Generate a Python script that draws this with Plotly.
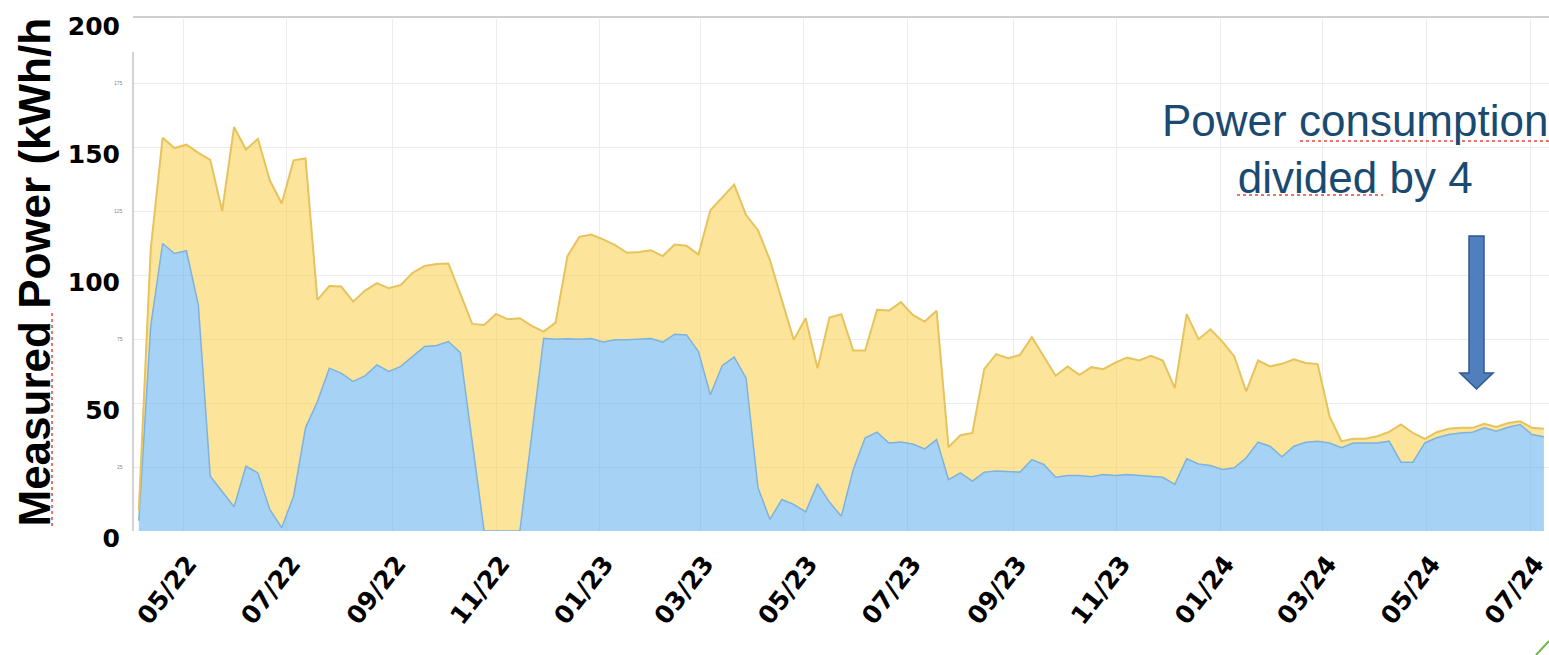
import pandas as pd
import plotly.graph_objects as go

W, H = 1549, 655
ML, MR, MT, MB = 133, 0, 19, 124

# weekly readings (kWh/h), first reading on 2022-04-05
first_week = "2022-04-05"
total_power = [
    8, 110, 153.6, 149.6, 150.9, 147.7, 145, 125, 157.8, 149,
    153.2, 137, 127.9, 144.8, 145.5, 90.3, 95.7, 95.5, 89.6, 93.9,
    96.8, 94.8, 96.1, 100.9, 103.5, 104.3, 104.5, 93, 80.9, 80.5,
    84.8, 82.7, 83.1, 80.1, 77.9, 81.4, 107.4, 114.9, 115.8, 113.9,
    111.7, 108.7, 109, 109.7, 107.4, 111.9, 111.4, 108, 125.3, 130.3,
    135.3, 123.4, 117.5, 105.8, 90.3, 74.7, 83.1, 63.6, 83.4, 84.7,
    70.5, 70.5, 86.4, 86.1, 89.4, 84.4, 81.8, 86, 32.7, 37.4,
    38.3, 63.2, 69.1, 67.5, 68.8, 75.7, 68.2, 60.6, 64.3, 61,
    64, 63.2, 65.8, 67.8, 66.6, 68.4, 66.6, 55.8, 84.7, 74.9,
    78.8, 74, 68.2, 54.5, 66.6, 64.3, 65.3, 67.1, 65.6, 65.2,
    44.8, 35.1, 36, 36, 37, 38.7, 41.6, 38.3, 36, 38.6,
    39.9, 40.3, 40.3, 41.9, 40.6, 42.2, 42.9, 40.3, 39.9,
]
base_power = [
    4, 80, 112.3, 108.4, 109.5, 88.3, 21.4, 15.5, 9.5, 25.3,
    22.7, 8.4, 1.3, 13.6, 40.3, 50.6, 63.6, 61.7, 58.4, 60.6,
    64.9, 62.3, 64.3, 68.2, 72.1, 72.5, 74, 69.7, 34.8, 0,
    0, 0, 0, 37.6, 75.3, 74.9, 75.1, 74.9, 75.2, 73.8,
    74.7, 74.7, 74.9, 75.2, 73.8, 76.9, 76.6, 70.1, 53.2, 64.7,
    67.9, 59.7, 16.9, 4.5, 12.3, 10.4, 7.5, 18.4, 11.3, 5.8,
    24, 36.4, 38.6, 34.4, 34.8, 34, 32.1, 35.7, 20.1, 22.7,
    19.5, 23, 23.4, 23.2, 23, 27.9, 26, 21, 21.7, 21.7,
    21.2, 22.1, 21.7, 22.1, 21.7, 21.2, 21, 18.2, 28.2, 26.2,
    25.6, 24, 24.7, 28.6, 34.7, 33.1, 29, 33.1, 34.7, 35.1,
    34.4, 32.5, 34.4, 34.4, 34.4, 35.1, 26.9, 26.9, 34.4, 36.4,
    37.7, 38.3, 38.6, 40.3, 39, 40.5, 41.6, 37.7, 36.8,
]
weeks = pd.date_range(first_week, periods=len(total_power), freq="7D")

big_ticks = [0, 50, 100, 150, 200]
small_ticks = [25, 75, 125, 175]


def px_x(px):
    return (px - ML) / (W - ML - MR)


def px_y(py):
    return (H - MB - py) / (H - MT - MB)


fig = go.Figure()
fig.add_trace(go.Scatter(x=weeks, y=base_power, mode="lines", fill="tozeroy",
                         line=dict(color="#7db3dc", width=1.5),
                         fillcolor="rgba(105,180,238,0.6)", showlegend=False))
fig.add_trace(go.Scatter(x=weeks, y=total_power, mode="lines", fill="tonexty",
                         line=dict(color="#e6c35c", width=2),
                         fillcolor="rgba(252,210,88,0.6)", showlegend=False))

fig.update_xaxes(range=["2022-04-01 14:00", "2024-07-12"], tick0="2022-05-01", dtick="M2",
                 tickformat="%m/%y", tickangle=-52, ticklabelstandoff=12, ticklabelshift=5,
                 ticklabeloverflow="allow",
                 tickfont=dict(family="DejaVu Sans", size=25, color="black", weight="bold"),
                 showgrid=True, gridcolor="#ececec", gridwidth=1, zeroline=False, showline=False)
fig.update_yaxes(range=[0, 200], tickvals=big_ticks, ticklabelstandoff=12, ticklabelshift=7,
                 ticklabeloverflow="allow",
                 tickfont=dict(family="DejaVu Sans", size=25, color="black", weight="bold"),
                 showgrid=True, gridcolor="#ececec", gridwidth=1,
                 minor=dict(dtick=25, showgrid=True, gridcolor="#ececec", gridwidth=1),
                 zeroline=False, showline=False)

for v in small_ticks:
    fig.add_annotation(x=px_x(125), xref="paper", y=v, yref="y", text=str(v), showarrow=False,
                       xanchor="right", yanchor="middle",
                       font=dict(family="Liberation Sans", size=5, color="#888888"))

fig.add_annotation(x=px_x(34), xref="paper", y=px_y(529), yref="paper",
                   xanchor="center", yanchor="bottom",
                   text="Measured Power (kWh/h", textangle=-90, showarrow=False,
                   font=dict(family="Liberation Sans", size=44, color="black", weight="bold"))
fig.add_annotation(x=px_x(1355), xref="paper", y=px_y(149), yref="paper",
                   xanchor="center", yanchor="middle",
                   text="Power consumption<br>divided by 4", showarrow=False, align="center",
                   font=dict(family="Liberation Sans", size=44, color="#1b4a70"))

# frame lines
fig.add_shape(type="line", xref="paper", yref="paper", x0=0, x1=1, y0=px_y(17), y1=px_y(17),
              line=dict(color="#cfcfcf", width=2))
fig.add_shape(type="line", xref="paper", yref="paper", x0=0, x1=0, y0=px_y(52), y1=px_y(531),
              line=dict(color="#c4c4c4", width=1.5))

# spell-check squiggles
for x0, y0, x1, y1 in [(52, 313, 52, 528), (1300, 141, 1549, 141), (1237, 195, 1383, 195)]:
    fig.add_shape(type="line", xref="paper", yref="paper", x0=px_x(x0), x1=px_x(x1),
                  y0=px_y(y0), y1=px_y(y1), line=dict(color="#e8443a", width=1.5, dash="dot"))

# block arrow
pts = [(1469, 236), (1484, 236), (1484, 373), (1493, 373), (1476.5, 389),
       (1460, 373), (1469, 373)]
path = "M " + " L ".join(f"{px_x(a):.4f},{px_y(b):.4f}" for a, b in pts) + " Z"
fig.add_shape(type="path", xref="paper", yref="paper", path=path,
              fillcolor="#4f7fbd", line=dict(color="#2f5a8f", width=1.5))

# stray green stroke in the corner
fig.add_shape(type="line", xref="paper", yref="paper", x0=px_x(1536), x1=px_x(1549),
              y0=px_y(655), y1=px_y(641), line=dict(color="#70b84a", width=2))

fig.update_layout(width=W, height=H, margin=dict(l=ML, r=MR, t=MT, b=MB),
                  plot_bgcolor="white", paper_bgcolor="white")

fig.write_html("out.html", config={"displayModeBar": False},
               post_script="document.body.style.margin='0';")
